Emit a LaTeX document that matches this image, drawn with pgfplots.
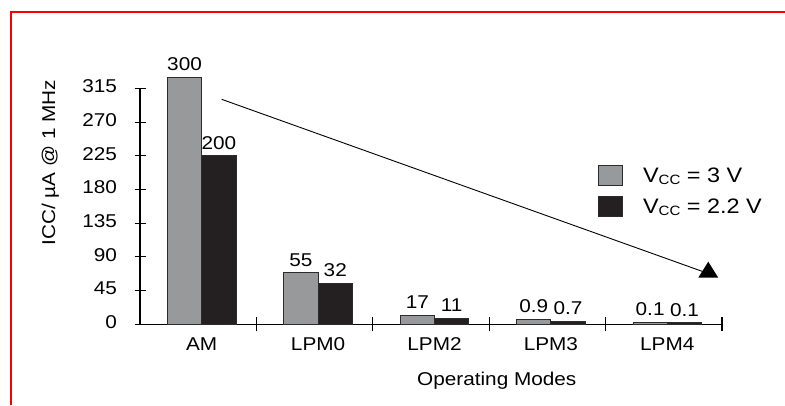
\documentclass[border=0pt]{standalone}
\usepackage{fontspec}
\setmainfont{Liberation Sans}[FakeStretch=1.12]
\usepackage{pgfplots}
\pgfplotsset{compat=1.18}
\usepackage{pgfplotstable}

\definecolor{barGray}{RGB}{152,153,155}
\definecolor{barBlack}{RGB}{36,32,33}
\definecolor{edge}{RGB}{45,42,43}

\pgfplotsset{boxlegend/.style={legend image code/.code={\draw[##1] (0bp,-10bp) rectangle (24bp,10bp);}}}

% bar centres (category + offset), bar heights as drawn, printed labels in lbl
\pgfplotstableread{
x        y     lbl
-0.1175  330   300
0.8825   69    55
1.8825   12.4  17
2.8825   6.7   0.9
3.8825   2.7   0.1
}\vthree
\pgfplotstableread{
x        y     lbl
0.1775   225   200
1.1775   55    32
2.1775   8     11
3.1775   4.4   0.7
4.1775   2     0.1
}\vtwo

\newcommand{\vcc}{V\raisebox{-2.5bp}{\fontsize{13.5}{14}\selectfont CC}}

\begin{document}
\begin{tikzpicture}[x=1bp,y=1bp]
\useasboundingbox (0,0) rectangle (785,405);
\draw[red, line width=2.2bp] (11,0) -- (11,393) -- (785,393);
\begin{axis}[
  at={(140bp,80.7bp)}, anchor=south west,
  scale only axis, width=582bp, height=235.9bp,
  xmin=-0.5, xmax=4.5, ymin=0, ymax=315,
  axis lines*=left,
  axis line style={line width=1.6bp, black},
  clip=false,
  ytick={0,45,...,315},
  xtick={0.03,1.03,2.03,3.03,4.03},
  xticklabels={AM,LPM0,LPM2,LPM3,LPM4},
  minor xtick={0.5,1.5,2.5,3.5,4.5},
  major x tick style={draw=none},
  tick align=center,
  major tick length=11bp,
  minor tick length=14bp,
  tick style={line width=1.1bp, black},
  /pgf/number format/assume math mode=true,
  tick label style={font=\fontsize{18.6}{22}\selectfont},
  yticklabel style={anchor=east, inner sep=0pt, xshift=-17.3bp, yshift=2bp},
  xticklabel style={anchor=north, inner sep=0pt, yshift=-7.5bp},
  xlabel={Operating Modes},
  xlabel style={at={(axis description cs:0.613,-0.260)}, anchor=base, inner sep=0pt, font=\fontsize{18.6}{22}\selectfont},
  ylabel={ICC/ µA @ 1 MHz},
  ylabel style={at={(axis description cs:-0.146,0.686)}, anchor=base, inner sep=0pt, font=\fontsize{18.6}{22}\selectfont},
  legend style={at={(axis description cs:0.787,0.675)}, anchor=north west,
    draw=none, fill=none, inner sep=0pt,
    font=\fontsize{21}{25}\selectfont,
    row sep=10bp,
    /tikz/every odd column/.append style={column sep=18bp}},
  legend cell align=left,
  nodes near coords,
  point meta=explicit symbolic,
  every node near coord/.append style={anchor=south, inner sep=0pt, yshift=6bp, font=\fontsize{18.6}{22}\selectfont, black},
]
\addplot[ybar, bar width=0.295, bar shift=0pt, fill=barGray, draw=edge, line width=0.8bp, boxlegend]
  table[x=x, y=y, meta=lbl] {\vthree};
\addlegendentry{\vcc{} = 3 V}
\addplot[ybar, bar width=0.295, bar shift=0pt, fill=barBlack, draw=edge, line width=0.8bp, boxlegend]
  table[x=x, y=y, meta=lbl] {\vtwo};
\addlegendentry{\vcc{} = 2.2 V}
\draw[line width=0.9bp] (axis cs:0.202,300.4) -- (axis cs:4.339,70.2);
\fill (axis cs:4.296,62.2) -- (axis cs:4.468,62.2) -- (axis cs:4.382,83.6) -- cycle;
\end{axis}
\end{tikzpicture}
\end{document}
